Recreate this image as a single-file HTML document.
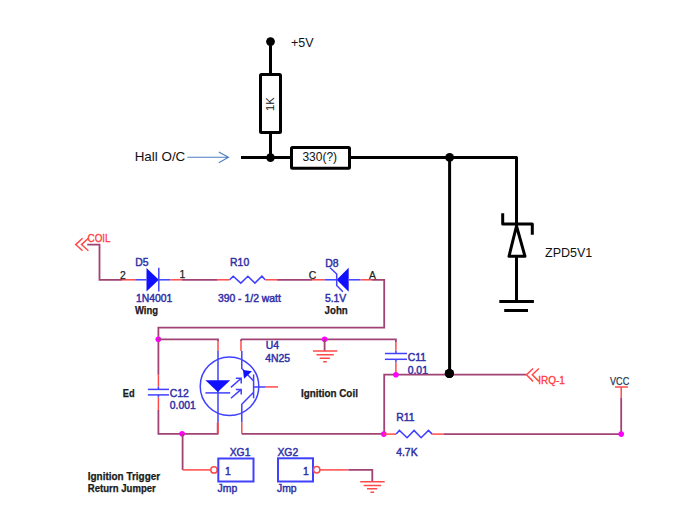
<!DOCTYPE html>
<html><head><meta charset="utf-8">
<style>
html,body{margin:0;padding:0;background:#fff;width:678px;height:509px;overflow:hidden}
svg{display:block}
text{font-family:"Liberation Sans",sans-serif}
.bk{stroke:#000;stroke-width:3;fill:none;stroke-linecap:butt;stroke-linejoin:round}
.w{stroke:#a04274;stroke-width:1.8;fill:none}
.r{stroke:#ff4a4a;stroke-width:1.5;fill:none}
.b{stroke:#4040ff;stroke-width:1.5;fill:none}
.nv{fill:#3030a8;stroke:#3030a8;stroke-width:0.45;font-size:10.4px}
.dk{fill:#222;stroke:#222;stroke-width:0.25;font-size:10.4px}
.bd{fill:#1a1a1a;stroke:#1a1a1a;stroke-width:0.25;font-size:10.4px;font-weight:bold}
.rd{fill:#ff3a3a;stroke:#ff3a3a;stroke-width:0.3;font-size:10.4px}
.cal{fill:#111;font-size:12.5px}
</style></head>
<body>
<svg width="678" height="509" viewBox="0 0 678 509">
<!-- ===== top black circuit ===== -->
<circle cx="270.5" cy="41.6" r="4.4" fill="#000"/>
<line class="bk" x1="270.5" y1="41.6" x2="270.5" y2="73"/>
<rect class="bk" x="260.5" y="74.5" width="20" height="58" rx="1"/>
<line class="bk" x1="270.5" y1="133" x2="270.5" y2="157.5"/>
<text class="cal" transform="translate(274,111) rotate(-90)" style="font-size:11.2px">1K</text>
<text class="cal" x="291" y="47">+5V</text>

<text class="cal" x="134.7" y="161.2" style="font-size:13.4px">Hall O/C</text>
<path d="M187.3 157.3 H228.5 M218.8 152 L228.5 157.3 L218.8 162.7" stroke="#4f7fc0" stroke-width="1.1" fill="none"/>

<line class="bk" x1="241" y1="157.5" x2="291" y2="157.5"/>
<circle cx="270.5" cy="157.6" r="4.3" fill="#000"/>
<rect class="bk" x="291.5" y="147.5" width="58" height="20.8" rx="1"/>
<text class="cal" x="302.4" y="161.2" style="font-size:12px">330(?)</text>
<path class="bk" d="M350 157.5 H516.5 V300"/>
<circle cx="449.6" cy="157.4" r="4.4" fill="#000"/>
<line class="bk" x1="449.6" y1="157.4" x2="449.6" y2="373.5"/>
<circle cx="449.4" cy="373.5" r="4.6" fill="#000"/>
<!-- zener -->
<path class="bk" d="M502.7 213.3 V224.1 H532.3 V234.7"/>
<path d="M516.5 226 L509 256.3 H525 Z" stroke="#000" stroke-width="3" fill="#fff" stroke-linejoin="round"/>
<line class="bk" x1="499.3" y1="301.5" x2="533.9" y2="301.5"/>
<line class="bk" x1="504.2" y1="310.5" x2="528" y2="310.5"/>
<text class="cal" x="545" y="256.9">ZPD5V1</text>

<!-- ===== lower schematic ===== -->
<!-- COIL port -->
<path class="r" d="M82.6 238.3 L75.7 244.6 L82.6 250.8 M88.4 238.3 L81.5 244.6 L88.4 250.8"/>
<text class="rd" x="87.6" y="242.3" style="font-size:11px" textLength="23" lengthAdjust="spacingAndGlyphs">COIL</text>
<path class="w" d="M87.2 244.7 H99.5 V279.8 H122"/>
<line class="r" x1="122" y1="279.8" x2="135.2" y2="279.8"/>
<line class="b" x1="135.2" y1="279.8" x2="146.5" y2="279.8"/>
<path d="M146.5 268 L158.8 279.8 L146.5 291.4 Z" fill="#1010ff"/>
<line class="b" x1="158.8" y1="267.8" x2="158.8" y2="291.4"/>
<line class="b" x1="158.8" y1="279.8" x2="170.4" y2="279.8"/>
<line class="r" x1="170.4" y1="279.8" x2="182.1" y2="279.8"/>
<line class="w" x1="182.1" y1="279.8" x2="217.7" y2="279.8"/>
<line class="r" x1="217.7" y1="279.8" x2="229.6" y2="279.8"/>
<path class="b" d="M229.6 279.8 L233.2 276.2 L240.8 283.1 L247.9 276.2 L254.9 283.1 L261.9 276.2 L265.2 279.8"/>
<line class="r" x1="265.2" y1="279.8" x2="277.1" y2="279.8"/>
<line class="w" x1="277.1" y1="279.8" x2="312.4" y2="279.8"/>
<line class="r" x1="312.4" y1="279.8" x2="324.6" y2="279.8"/>
<line class="b" x1="324.6" y1="279.8" x2="336.7" y2="279.8"/>
<path d="M336.7 279.8 L348.7 267.8 L348.7 291.7 Z" fill="#1010ff"/>
<path class="b" d="M330.1 267.8 L336.7 274 V285.5 L342.9 291.7"/>
<line class="b" x1="348.7" y1="279.8" x2="360.6" y2="279.8"/>
<line class="r" x1="360.6" y1="279.8" x2="372" y2="279.8"/>
<path class="w" d="M372 279.8 H384.2 V327.6 H158.4 V374.7"/>
<text class="dk" x="120" y="278.9">2</text>
<text class="dk" x="179.5" y="278.3">1</text>
<text class="nv" x="135.2" y="265.9">D5</text>
<text class="nv" x="135.9" y="301.6">1N4001</text>
<text class="bd" x="135" y="314" textLength="23" lengthAdjust="spacingAndGlyphs">Wing</text>
<text class="nv" x="230.1" y="265.8">R10</text>
<text class="nv" x="217.9" y="302.2">390 - 1/2 watt</text>
<text class="dk" x="308.8" y="278.5">C</text>
<text class="nv" x="325.2" y="266.5">D8</text>
<text class="dk" x="369" y="278.9">A</text>
<text class="nv" x="324.9" y="301.6">5.1V</text>
<text class="bd" x="324.6" y="314" textLength="23.2" lengthAdjust="spacingAndGlyphs">John</text>

<!-- C12 -->
<line class="r" x1="158.4" y1="374.7" x2="158.4" y2="386.5"/>
<line class="b" x1="158.4" y1="386.5" x2="158.4" y2="389.4"/>
<line class="b" x1="147.8" y1="389.4" x2="169" y2="389.4"/>
<line class="b" x1="147.8" y1="394.9" x2="169" y2="394.9"/>
<line class="b" x1="158.4" y1="394.9" x2="158.4" y2="397.5"/>
<line class="r" x1="158.4" y1="397.5" x2="158.4" y2="410"/>
<path class="w" d="M158.4 410 V433.8 H217.7 V422.6"/>
<circle cx="158.3" cy="339.3" r="2.8" fill="#ff00ff"/>
<path class="w" d="M158.3 339.3 H218 V341"/>
<line class="r" x1="218" y1="341" x2="218" y2="351"/>
<text class="bd" x="122.8" y="396.7" textLength="11.8" lengthAdjust="spacingAndGlyphs">Ed</text>
<text class="nv" x="169.8" y="396.7">C12</text>
<text class="nv" x="169.8" y="408.5">0.001</text>

<!-- U4 optocoupler -->
<circle cx="229.5" cy="386.2" r="29.3" class="b"/>
<line class="b" x1="218" y1="351" x2="218" y2="422.6"/>
<line class="r" x1="218" y1="422.6" x2="218" y2="433.8"/>
<path d="M205.4 380.3 H230.2 L217.8 392 Z" fill="#1010ff"/>
<line class="b" x1="205.4" y1="392.9" x2="230.2" y2="392.9"/>
<path class="b" d="M230.9 387.4 L241.2 378.2 M235.8 378.2 H241.2 V383.6 M230.9 398.2 L241.2 389.4 M235.8 389.4 H241.2 V394.5"/>
<path class="w" d="M241 339.3 V341"/>
<line class="r" x1="241" y1="341" x2="241" y2="351"/>
<path class="b" d="M241.8 351 V368.5 L253.6 381 M253.6 374.5 V398.2 M253.6 386.9 H265 M253.6 392.3 L241.8 404.2 V422.6"/>
<path d="M243 370 L252 371.3 L244 378.8 Z" fill="#1010ff"/>
<line class="r" x1="265" y1="386.9" x2="278" y2="386.9"/>
<line class="r" x1="241.8" y1="422.6" x2="241.8" y2="433.8"/>
<text class="nv" x="265.7" y="349">U4</text>
<text class="nv" x="265.2" y="361.6">4N25</text>
<text class="bd" x="300.9" y="396.8" textLength="57" lengthAdjust="spacingAndGlyphs">Ignition Coil</text>

<!-- U4 top wire + ground -->
<path class="w" d="M241 339.3 H395.9 V342"/>
<circle cx="324.6" cy="339.2" r="2.8" fill="#ff00ff"/>
<line class="w" x1="324.6" y1="339.2" x2="324.6" y2="351"/>
<path class="r" d="M313 351.1 H337.3 M316.5 354.8 H333.8 M319.7 358.3 H329.9 M323.2 361.8 H326.7"/>

<!-- C11 -->
<line class="r" x1="395.9" y1="342" x2="395.9" y2="350.7"/>
<line class="b" x1="395.9" y1="350.7" x2="395.9" y2="353.5"/>
<line class="b" x1="384.9" y1="353.5" x2="407" y2="353.5"/>
<line class="b" x1="384.9" y1="359.3" x2="407" y2="359.3"/>
<line class="b" x1="395.9" y1="359.3" x2="395.9" y2="362.5"/>
<line class="r" x1="395.9" y1="362.5" x2="395.9" y2="374.7"/>
<text class="nv" x="407.7" y="361.2">C11</text>
<text class="nv" x="407.7" y="373.5">0.01</text>
<path class="w" d="M526.5 374.7 H384.2 V434.1"/>
<circle cx="395.9" cy="374.7" r="2.8" fill="#ff00ff"/>
<circle cx="449.4" cy="373.5" r="4.6" fill="#000"/>

<!-- IRQ port -->
<path class="r" d="M533.1 368.5 L526.5 374.7 L533.1 381.4 M538.9 368.5 L532.3 374.7 L538.9 381.4"/>
<text class="rd" x="538.3" y="384" style="font-size:10px" textLength="26.6" lengthAdjust="spacingAndGlyphs">IRQ-1</text>

<!-- bottom wire / R11 / VCC -->
<path class="w" d="M241.8 433.8 H383.8"/>
<circle cx="383.8" cy="434.1" r="2.8" fill="#ff00ff"/>
<line class="r" x1="383.8" y1="434.1" x2="396.2" y2="434.1"/>
<path class="b" d="M396.2 434.1 L399.4 430.4 L407.1 437.7 L414.1 430.4 L421.1 437.7 L428.5 430.4 L432.2 434.1"/>
<line class="r" x1="432.2" y1="434.1" x2="443.5" y2="434.1"/>
<path class="w" d="M443.5 434.1 H621.2 V397.6"/>
<line class="r" x1="621.2" y1="397.6" x2="621.2" y2="387"/>
<line class="r" x1="615" y1="387" x2="627.9" y2="387"/>
<circle cx="621.2" cy="434.1" r="2.8" fill="#ff00ff"/>
<text class="nv" x="396.2" y="420.7">R11</text>
<text class="nv" x="396.2" y="456.2">4.7K</text>
<text class="dk" x="610" y="384.8" style="fill:#2a3550;stroke:#2a3550;font-size:11px" textLength="19.2" lengthAdjust="spacingAndGlyphs">VCC</text>

<!-- jumpers -->
<circle cx="182.1" cy="433.8" r="2.8" fill="#ff00ff"/>
<path class="w" d="M182.6 433.8 V469.9"/>
<line class="r" x1="182.6" y1="469.9" x2="210.5" y2="469.9"/>
<circle cx="214" cy="469.9" r="3.2" class="r"/>
<rect x="218.3" y="458.5" width="35.2" height="23" stroke="#4040ff" stroke-width="2" fill="none"/>
<text class="nv" x="225" y="474.8">1</text>
<text class="nv" x="229.7" y="455.9">XG1</text>
<text class="nv" x="217.6" y="492">Jmp</text>

<rect x="278" y="458.3" width="35" height="23.2" stroke="#4040ff" stroke-width="2" fill="none"/>
<circle cx="316.7" cy="469.7" r="3.2" class="r"/>
<line class="r" x1="320" y1="469.9" x2="348.4" y2="469.9"/>
<path class="w" d="M348.4 469.9 H372.3 V481.7"/>
<path class="r" d="M360.2 481.7 H384.7 M363.7 485.5 H381.2 M367 488.8 H377.2 M370.5 492.3 H374.1"/>
<text class="nv" x="303" y="474.7">1</text>
<text class="nv" x="277.4" y="455.8">XG2</text>
<text class="nv" x="277" y="492.2">Jmp</text>

<text class="bd" x="87.8" y="479.8" style="font-size:10px" textLength="72.3" lengthAdjust="spacingAndGlyphs">Ignition Trigger</text>
<text class="bd" x="87.8" y="491.6" style="font-size:10px" textLength="68" lengthAdjust="spacingAndGlyphs">Return Jumper</text>
</svg>
</body></html>
